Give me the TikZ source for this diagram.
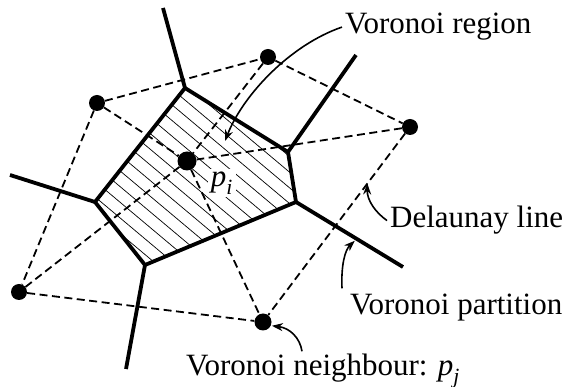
\documentclass[tikz,border=0pt]{standalone}
\usepackage{amsmath}
\usepackage{fontspec}
\setmainfont{Liberation Serif}
\usetikzlibrary{arrows.meta,calc,positioning}

\begin{document}
\begin{tikzpicture}[x=1pt,y=-1pt,>={Stealth[length=11pt,width=8pt]},
    site/.style={circle,fill=black,inner sep=0pt,minimum size=16pt},
    cell/.style={line width=3.8pt},
    dline/.style={line width=1.8pt,dash pattern=on 8pt off 4.5pt},
    hatch/.style={line width=0.7pt},
    txt/.style={inner sep=3pt,anchor=base west,font=\fontsize{31}{36}\selectfont},
    pointer/.style={line width=1.6pt,->}]
\useasboundingbox (0,0) rectangle (566,387);

% Voronoi vertices and open edges
\coordinate (vert1) at (185,88);
\coordinate (vert2) at (288,152);
\coordinate (vert3) at (296,202);
\coordinate (vert4) at (145,265);
\coordinate (vert5) at (95,202);
\coordinate (end1) at (163,8);
\coordinate (end2) at (356,55);
\coordinate (end3) at (403,267);
\coordinate (end4) at (126,369);
\coordinate (end5) at (10,175);

% hatching of the region
\begin{scope}
\clip (vert1)--(vert2)--(vert3)--(vert4)--(vert5)--cycle;
\foreach \k in {-82,-70,...,95}
  \draw[hatch] ({190-0.643*\k-250*0.766},{180+0.766*\k-250*0.643}) -- ++({500*0.766},{500*0.643});
\end{scope}
\node[fill=white,inner sep=3pt,font=\fontsize{31}{36}\selectfont] (pi) at (222,183) {$\textit{p}_{\textit{i}}$};

% sites
\node[site,minimum size=19pt] (site0) at (187,161) {};
\node[site] (site1) at (97,103) {};
\node[site] (site2) at (268,57) {};
\node[site] (site3) at (410,127) {};
\node[site,minimum size=17pt] (site4) at (263,322) {};
\node[site] (site5) at (19,292) {};

% Delaunay lines
\draw[dline] (site1) -- (site2);
\draw[dline] (site2) -- (site3);
\draw[dline] (site1) -- (site0);
\draw[dline] (site2) -- (site0);
\draw[dline] (site3) -- (site0);
\draw[dline] (site1) -- (site5);
\draw[dline] (site5) -- (site0);
\draw[dline] (site5) -- (site4);
\draw[dline] (site0) -- (site4);
\draw[dline] (site3) -- (site4);

% Voronoi partition
\draw[cell] (vert1) -- (vert2) -- (vert3) -- (vert4) -- (vert5) -- cycle;
\draw[cell] (vert1) -- (end1);
\draw[cell] (vert2) -- (end2);
\draw[cell] (vert3) -- (end3);
\draw[cell] (vert4) -- (end4);
\draw[cell] (vert5) -- (end5);

% labels
\node[txt] (region) at (342,34) {Voronoi region};
\node[txt] (delaunay) at (387,228) {Delaunay line};
\node[txt] (partition) at (347,315) {Voronoi partition};
\node[txt] (neighbour) at (183,376) {Voronoi neighbour: $\textit{p}_{\textit{j}}$};

\coordinate (rg) at (225,141);
\coordinate (dl) at ($(site3)!0.29!(site4)$);
\coordinate (vp) at ($(vert3)!0.55!(end3)+(0,3)$);
\draw[pointer] (region.west) .. controls (290,45) and (243,95) .. (rg);
\draw[pointer] (delaunay.west) .. controls (375,212) and (367,200) .. (dl);
\draw[pointer] ([xshift=-5pt,yshift=3pt]partition.north west) .. controls (341,265) and (345,250) .. (vp);
\draw[pointer,shorten >=1pt] ([xshift=119pt]neighbour.north west) .. controls (300,338) and (290,328) .. (site4.-25);
\end{tikzpicture}
\end{document}
